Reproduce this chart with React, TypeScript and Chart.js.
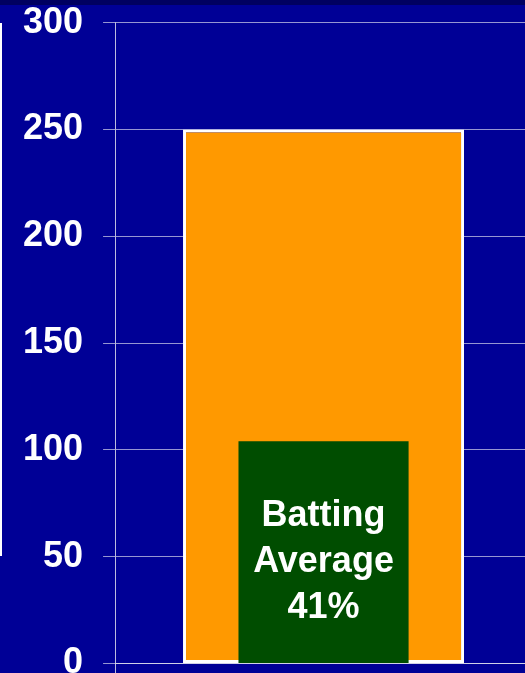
import React, { useEffect, useRef } from "react";
import { Chart, registerables } from "chart.js";

Chart.register(...registerables);

const categories = [""];
const totalValues = [250];
const battingValues = [104];
const yTicks = [0, 50, 100, 150, 200, 250, 300];
const barLabelLines = ["Batting", "Average", "41%"];

const FONT = "'Liberation Sans', Arial, Helvetica, sans-serif";

const textPlugin = {
  id: "barText",
  afterDatasetsDraw(chart: any) {
    const meta = chart.getDatasetMeta(0);
    const el = meta.data[0];
    if (!el) return;
    const { x, y, base } = el.getProps(["x", "y", "base"], true);
    const ctx = chart.ctx;
    ctx.save();
    ctx.fillStyle = "#ffffff";
    ctx.font = `bold 36px ${FONT}`;
    ctx.textAlign = "center";
    ctx.textBaseline = "middle";
    const mid = (y + base) / 2 + 10;
    const lh = 46;
    barLabelLines.forEach((line, i) => {
      ctx.fillText(line, x, mid + (i - 1) * lh);
    });
    ctx.restore();
  },
};

export default function App() {
  const ref = useRef<HTMLCanvasElement | null>(null);

  useEffect(() => {
    document.body.style.margin = "0";
    document.body.style.overflow = "hidden";
    const canvas = ref.current;
    if (!canvas) return;
    const chart = new Chart(canvas, {
      type: "bar",
      data: {
        labels: categories,
        datasets: [
          {
            label: "Batting Average",
            data: battingValues,
            backgroundColor: "#004d00",
            borderWidth: 0,
            barPercentage: 0.408,
            categoryPercentage: 1,
            grouped: false,
            order: 0,
          },
          {
            label: "Total",
            data: totalValues,
            backgroundColor: "#ff9900",
            borderColor: "#ffffff",
            borderWidth: 3,
            borderSkipped: false,
            barPercentage: 0.674,
            categoryPercentage: 1,
            grouped: false,
            order: 1,
          },
        ],
      },
      options: {
        animation: false,
        responsive: false,
        maintainAspectRatio: false,
        layout: { padding: { top: 3, left: 3, right: 0, bottom: 0 } },
        plugins: {
          legend: { display: false },
          tooltip: { enabled: false },
        },
        scales: {
          x: {
            display: true,
            ticks: { display: false },
            grid: {
              display: true,
              drawOnChartArea: false,
              drawTicks: true,
              tickLength: 12,
              color: "rgba(220,220,235,0.85)",
              offset: true,
            },
            border: { display: true, color: "rgba(220,220,235,0.85)", width: 1 },
          },
          y: {
            min: 0,
            max: 300,
            afterBuildTicks(axis: any) {
              axis.ticks = yTicks.map((v) => ({ value: v }));
            },
            ticks: {
              color: "#ffffff",
              padding: 20,
              font: { family: FONT, size: 36, weight: "bold" },
            },
            grid: {
              color: "rgba(200,200,230,0.75)",
              lineWidth: 1,
              tickLength: 12,
            },
            border: { display: true, color: "rgba(220,220,235,0.85)", width: 1 },
          },
        },
      },
      plugins: [textPlugin],
    });
    return () => chart.destroy();
  }, []);

  return (
    <div
      style={{
        position: "fixed",
        left: 0,
        top: 0,
        width: 525,
        height: 673,
        overflow: "hidden",
        background: "#000096",
      }}
    >
      <canvas
        ref={ref}
        width={532}
        height={724}
        style={{ position: "absolute", left: 0, top: -19, width: 532, height: 724 }}
      />
      <div
        style={{
          position: "absolute",
          left: 0,
          top: 0,
          width: 525,
          height: 5,
          background: "#000060",
        }}
      />
      <div
        style={{
          position: "absolute",
          left: 0,
          top: 23,
          width: 2,
          height: 533,
          background: "#ffffff",
        }}
      />
    </div>
  );
}
